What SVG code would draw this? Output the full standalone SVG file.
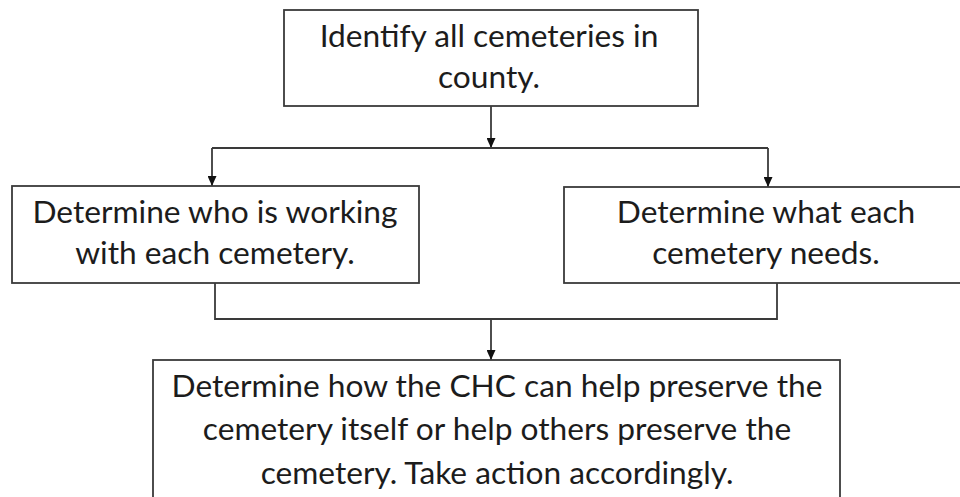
<svg xmlns="http://www.w3.org/2000/svg" width="960" height="497" viewBox="0 0 960 497">
<style>
.box{fill:#ffffff;stroke:#3a3a3a;stroke-width:1.8}
.t{font-family:Lato,"Open Sans",sans-serif;font-size:31.7px;fill:#1c1c1c;text-anchor:middle}
.c{fill:none;stroke:#3a3a3a;stroke-width:1.8}
</style>
<defs>
<marker id="arr" markerUnits="userSpaceOnUse" markerWidth="10" markerHeight="9" refX="10" refY="4.5" orient="auto">
<path d="M0,0 L10,4.5 L0,9 Z" fill="#111111"/>
</marker>
</defs>
<rect width="960" height="497" fill="#ffffff"/>
<g id="connectors">
<path class="c" d="M491,106 V148" marker-end="url(#arr)"/>
<path class="c" d="M212,148 H768"/>
<path class="c" d="M212,148 V186" marker-end="url(#arr)"/>
<path class="c" d="M768,148 V187" marker-end="url(#arr)"/>
<path class="c" d="M215,283 V319 H777 V283"/>
<path class="c" d="M491,319 V360" marker-end="url(#arr)"/>
</g>
<g id="n1">
<rect class="box" x="284" y="10" width="414" height="96"/>
<text class="t" x="489" y="47">Identify all cemeteries in</text>
<text class="t" x="489" y="88">county.</text>
</g>
<g id="n2">
<rect class="box" x="12" y="186" width="407" height="97"/>
<text class="t" x="215" y="223">Determine who is working</text>
<text class="t" x="215" y="264">with each cemetery.</text>
</g>
<g id="n3">
<rect class="box" x="564" y="187" width="410" height="96"/>
<text class="t" x="766" y="223">Determine what each</text>
<text class="t" x="766" y="264">cemetery needs.</text>
</g>
<g id="n4">
<rect class="box" x="153" y="360" width="687" height="150"/>
<text class="t" x="497" y="397">Determine how the CHC can help preserve the</text>
<text class="t" x="497" y="440">cemetery itself or help others preserve the</text>
<text class="t" x="497" y="484">cemetery. Take action accordingly.</text>
</g>
</svg>
